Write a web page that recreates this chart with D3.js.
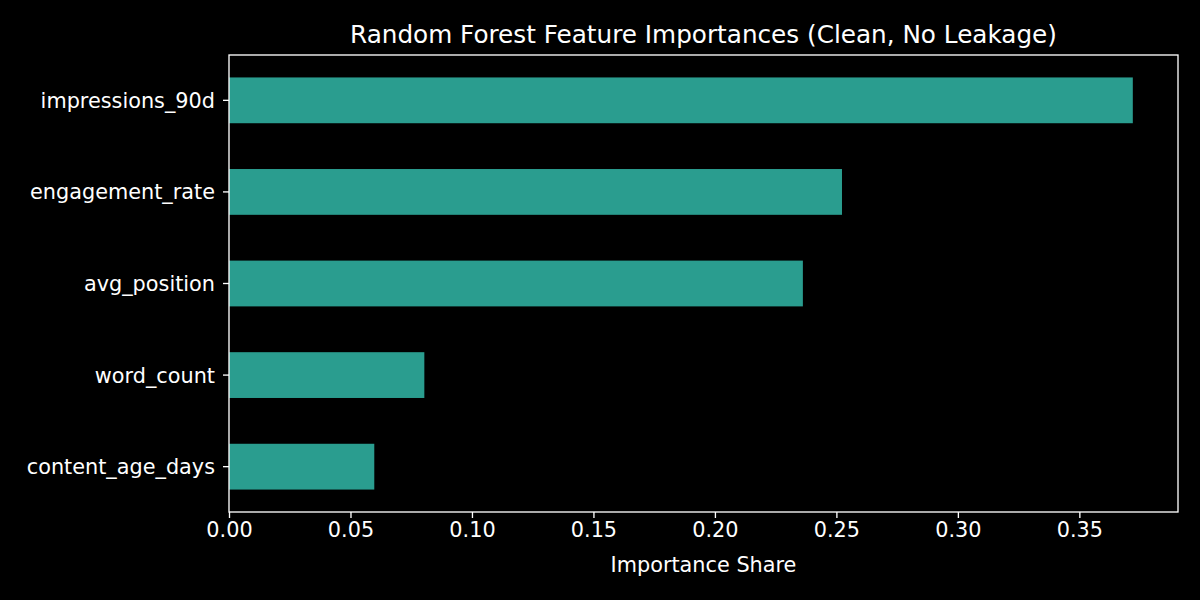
<!DOCTYPE html>
<html>
<head>
  <meta charset="utf-8">
  <title>Random Forest Feature Importances</title>
  <script src="https://cdn.jsdelivr.net/npm/d3@7"></script>
  <style>
    body {
      margin: 0;
      padding: 0;
      background: #000;
    }
    svg text {
      font-family: "DejaVu Sans", sans-serif;
      fill: #fff;
    }
  </style>
</head>
<body>
  <div id="chart"></div>
  <script>
    // values, top bar first
    var features = ["impressions_90d", "engagement_rate", "avg_position", "word_count", "content_age_days"]
    var importances = [0.372, 0.2523, 0.2362, 0.0804, 0.0598]
    var xTicks = [0.00, 0.05, 0.10, 0.15, 0.20, 0.25, 0.30, 0.35]

    var titleText = "Random Forest Feature Importances (Clean, No Leakage)"
    var xLabel = "Importance Share"

    var W = 1200, H = 600
    var margin = { top: 55, right: 22, bottom: 88, left: 229 },
      width = W - margin.left - margin.right,
      height = H - margin.top - margin.bottom

    var svg = d3.select("#chart")
      .append("svg")
      .attr("width", W)
      .attr("height", H)

    svg.append("rect")
      .attr("width", W)
      .attr("height", H)
      .attr("fill", "#000")

    var g = svg.append("g")
      .attr("transform", "translate(" + margin.left + "," + margin.top + ")")

    // matplotlib-like 5% margin on the right
    var x = d3.scaleLinear()
      .domain([0, d3.max(importances) * 1.05])
      .range([0, width])

    var y = d3.scaleBand()
      .domain(features)
      .range([0, height])
      .paddingInner(0.5)
      .paddingOuter(0.245)

    var data = features.map(function (f, i) { return { name: f, value: importances[i] } })

    g.selectAll("rect.bar")
      .data(data)
      .enter()
      .append("rect")
      .attr("class", "bar")
      .attr("x", x(0))
      .attr("y", function (d) { return y(d.name) })
      .attr("width", function (d) { return x(d.value) - x(0) })
      .attr("height", y.bandwidth())
      .attr("fill", "#2a9d8f")

    // x axis
    var xAxis = g.append("g")
      .attr("transform", "translate(0," + height + ")")
      .call(d3.axisBottom(x).tickValues(xTicks).tickFormat(d3.format(".2f")).tickSize(6).tickPadding(4))
    xAxis.select(".domain").remove()
    xAxis.selectAll("line").attr("stroke", "#fff").attr("stroke-width", 1.33)
    xAxis.selectAll("text").attr("font-size", "20.8px").attr("fill", "#fff")

    // y axis
    var yAxis = g.append("g")
      .call(d3.axisLeft(y).tickSize(6).tickPadding(8))
    yAxis.select(".domain").remove()
    yAxis.selectAll("line").attr("stroke", "#fff").attr("stroke-width", 1.33)
    yAxis.selectAll("text").attr("font-size", "20.8px").attr("fill", "#fff").attr("dy", "0.36em")

    // spines
    g.append("rect")
      .attr("x", 0)
      .attr("y", 0)
      .attr("width", width)
      .attr("height", height)
      .attr("fill", "none")
      .attr("stroke", "#fff")
      .attr("stroke-width", 1.33)

    // title
    svg.append("text")
      .attr("x", margin.left + width / 2)
      .attr("y", 43)
      .attr("text-anchor", "middle")
      .attr("font-size", "24.7px")
      .text(titleText)

    // x label
    svg.append("text")
      .attr("x", margin.left + width / 2)
      .attr("y", 572)
      .attr("text-anchor", "middle")
      .attr("font-size", "20.8px")
      .text(xLabel)
  </script>
</body>
</html>
